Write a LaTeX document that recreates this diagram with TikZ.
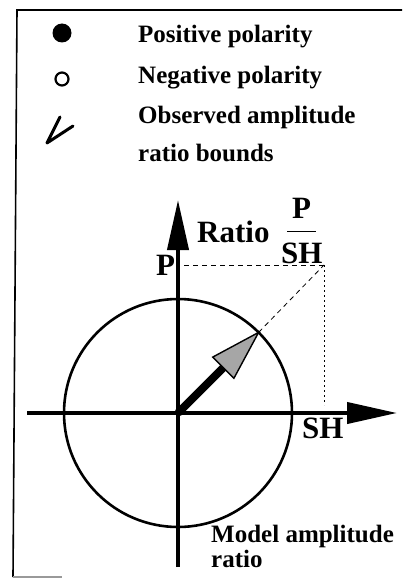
\documentclass[tikz,border=0pt]{standalone}
\usepackage{fontspec}
\setmainfont{Liberation Serif}
\usetikzlibrary{arrows.meta}
\newcommand{\RR}{114}

\begin{document}
\begin{tikzpicture}[x=1pt, y=-1pt,
    frame/.style={draw=black, line width=1.6pt},
    axis/.style={draw=black, line width=4pt, -{Triangle[length=50pt, width=21pt]}},
    ring/.style={draw=black, line width=2.6pt},
    guide/.style={draw=black, line width=0.8pt, dash pattern=on 5pt off 4pt},
    fine/.style={draw=black, line width=0.8pt, dash pattern=on 2pt off 3pt},
    legtxt/.style={font=\fontsize{25}{27}\selectfont\bfseries, anchor=base west, inner sep=0pt},
    lbl/.style={font=\fontsize{31}{33}\selectfont\bfseries, anchor=base west, inner sep=0pt},
  ]
  \useasboundingbox (0,0) rectangle (402,578);

  % open frame: top and left only
  \draw[frame] (402,10) -- (17,10) -- (13,577);
  \draw[frame, black!40] (13,577) -- (62,577);

  %% ================= legend =================
  \fill[black] (62,33) circle (9.5);
  \draw[line width=2.2pt] (62,79) circle (6.5);
  \draw[line width=3pt, line cap=round, line join=round] (60,117) -- (47,143) -- (73,126);

  \node[legtxt] (pos) at (138,43)  {Positive polarity};
  \node[legtxt] (neg) at (138,83)  {Negative polarity};
  \node[legtxt] (obs) at (138,123) {Observed amplitude};
  \node[legtxt] (bnd) at (138,161) {ratio bounds};

  %% ================= axes and model circle =================
  \coordinate (O) at (178,413);
  \coordinate (xL) at (27,413);
  \coordinate (xR) at (397,413);
  \coordinate (yB) at (178,567);
  \coordinate (yT) at (178,200);

  \draw[ring] (O) circle (\RR);
  \draw[axis] (xL) -- (xR);
  \draw[axis] (yB) -- (yT);

  % observed ratio corner and guides
  \coordinate (C)  at (324,265);
  \coordinate (cY) at (184,265);
  \coordinate (cX) at (324,405);
  \coordinate (tip) at (258.6,332.4);
  \coordinate (bm)  at (223.3,367.7);
  \coordinate (bl)  at (212.7,357.1);
  \coordinate (br)  at (233.9,378.3);

  \draw[guide] (cY) -- (C);
  \draw[guide] (tip) -- (C);
  \draw[fine] (C) -- (cX);

  % model amplitude ratio vector
  \draw[line width=8pt] (O) -- (bm);
  \filldraw[fill=black!35, draw=black, line width=1.4pt, line join=miter] (tip) -- (bl) -- (br) -- cycle;

  %% ================= labels =================
  \node[lbl] (ratio) at (197,242) {Ratio};
  \node[lbl] (fP)  at (292,218) {P};
  \node[lbl] (fSH) at (281,263) {SH};
  \draw[line width=0.8pt] (287,231) -- (316,231);
  \node[lbl] (yP)  at (156,275) {P};
  \node[lbl] (xSH) at (302,438) {SH};

  \node[legtxt] (mod) at (211,542) {Model amplitude};
  \node[legtxt] (mrt) at (211,567) {ratio};

\end{tikzpicture}
\end{document}
